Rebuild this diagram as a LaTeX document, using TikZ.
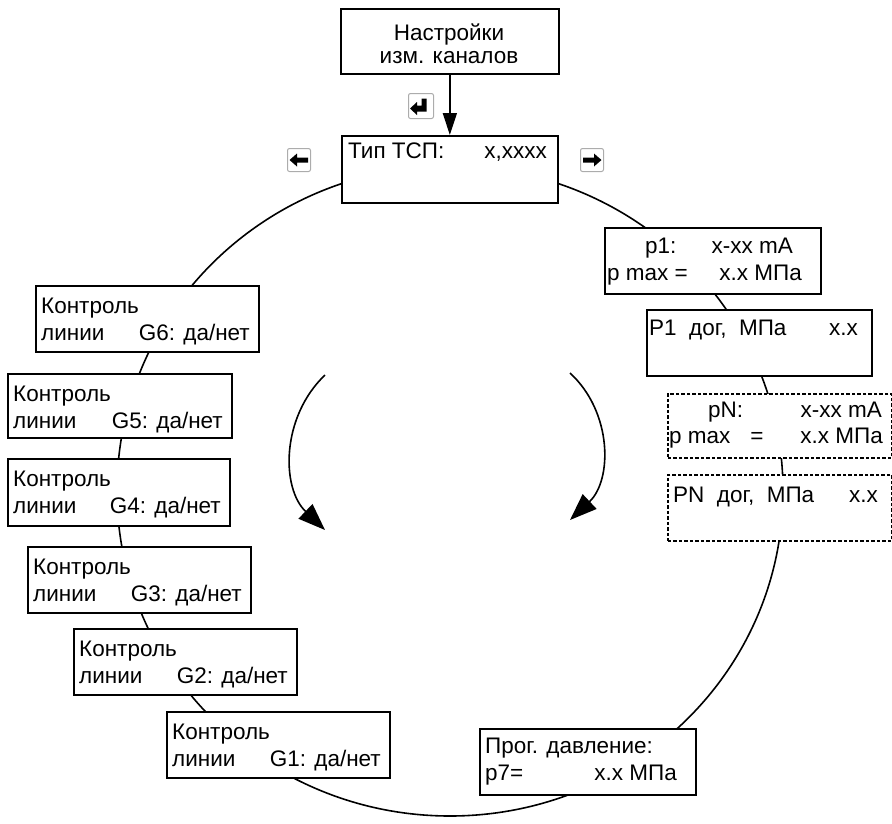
\documentclass[tikz,border=0pt]{standalone}
\usepackage{fontspec}
\setmainfont{Liberation Sans}
\usetikzlibrary{arrows.meta,calc}
\begin{document}
\begin{tikzpicture}[x=1pt,y=-1pt,
  box/.style={draw, line width=1.7pt, fill=white, anchor=north west, inner sep=0pt},
  dbox/.style={box, dash pattern=on 3.5pt off 2pt},
  txt/.style={inner sep=0pt, font=\fontsize{22.5}{27}\selectfont},
  icon/.style={draw=gray!65, line width=1pt, rounded corners=2pt, fill=white, anchor=north west, inner sep=0pt, minimum width=23pt, minimum height=23pt},
  glyph/.style={fill=black, draw=none},
  conn/.style={line width=1.6pt},
  bigtip/.style={-{Triangle[length=27pt,width=20pt]}}
  ]
\useasboundingbox (0,0) rectangle (892,823);

% cycle
\draw[conn] (450,491) ellipse [x radius=333, y radius=325];

% top
\node[box, minimum width=218pt, minimum height=65pt] (nastr) at (340,8) {};
\node[txt, anchor=base] (nastr1) at (449,40) {Настройки};
\node[txt, anchor=base] (nastr2) at (449,63) {изм. каналов};

\node[box, minimum width=216pt, minimum height=67pt] (tip) at (341,135) {};
\node[txt, anchor=base west] (tip1) at (348,158) {Тип ТСП:};
\node[txt, anchor=base east] (tip2) at (547,158) {x,xxxx};

\draw[conn, -{Triangle[length=22pt,width=14pt]}] (nastr.south) -- (tip.north);

% icons
\node[icon, minimum width=25pt, minimum height=25pt] (ient) at (408,93) {};
\fill[glyph] (426.5,98.5) -- (426.5,111.5) -- (417,111.5) -- (417,115) -- (410,108.5) -- (417,102) -- (417,105.5) -- (421.5,105.5) -- (421.5,98.5) -- cycle;
\node[icon] (ileft) at (287,148) {};
\fill[glyph] (ileft.center) ++(-9.5,0) -- ++(7.5,-6.5) -- ++(0,4) -- ++(11,0) -- ++(0,5) -- ++(-11,0) -- ++(0,4) -- cycle;
\node[icon] (iright) at (580,148) {};
\fill[glyph] (iright.center) ++(9.5,0) -- ++(-7.5,-6.5) -- ++(0,4) -- ++(-11,0) -- ++(0,5) -- ++(11,0) -- ++(0,4) -- cycle;

% right column
\node[box, minimum width=216pt, minimum height=66pt] (p1) at (604,227) {};
\node[txt, anchor=base west] (p1a) at (645,253) {p1:};
\node[txt, anchor=base east] (p1b) at (793,253) {x-xx mA};
\node[txt, anchor=base west] (p1c) at (607,280) {p max =};
\node[txt, anchor=base east] (p1d) at (802,280) {x.x МПа};

\node[box, minimum width=225pt, minimum height=66pt] (P1) at (646,309) {};
\node[txt, anchor=base west] (P1a) at (649,335) {P1\ \ дог,\ \ МПа};
\node[txt, anchor=base east] (P1b) at (858,335) {x.x};

\node[dbox, minimum width=224pt, minimum height=64pt] (pN) at (667,393) {};
\node[txt, anchor=base west] (pNa) at (708,417) {pN:};
\node[txt, anchor=base east] (pNb) at (882,417) {x-xx mA};
\node[txt, anchor=base west] (pNc) at (669,443) {p max};
\node[txt, anchor=base] (pNd) at (757,443) {=};
\node[txt, anchor=base east] (pNe) at (883,443) {x.x МПа};

\node[dbox, minimum width=224pt, minimum height=66pt] (PN) at (667,474) {};
\node[txt, anchor=base west] (PNa) at (673,502) {PN\ \ дог,\ \ МПа};
\node[txt, anchor=base east] (PNb) at (878,502) {x.x};

\node[box, minimum width=216pt, minimum height=66pt] (p7) at (479,728) {};
\node[txt, anchor=base west] (p7a) at (485,753) {Прог. давление:};
\node[txt, anchor=base west] (p7b) at (485,780) {p7=};
\node[txt, anchor=base east] (p7c) at (677,780) {x.x МПа};

% left column
\foreach \n/\x/\y/\w/\h in {6/35/285/223/66, 5/7/373/224/64, 4/7/458/222/67, 3/27/546/223/66, 2/73/628/223/66, 1/166/711/223/66}{
  \node[box, minimum width=\w pt, minimum height=\h pt] (g\n) at (\x,\y) {};
  \node[txt, anchor=base west] (g\n a) at ($(\x,\y)+(6,28)$) {Контроль};
  \node[txt, anchor=base west] (g\n b) at ($(\x,\y)+(6,55)$) {линии};
  \node[txt, anchor=base east] (g\n c) at ($(\x,\y)+(\w-8,55)$) {G\n: да/нет};
}

% inner direction arrows
\coordinate (la1) at (325,375);
\coordinate (la2) at (325,530);
\draw[conn, bigtip] (la1) .. controls (281,417) and (281,488) .. (la2);
\coordinate (ra1) at (570,373);
\coordinate (ra2) at (570,520);
\draw[conn, bigtip] (ra1) .. controls (612.5,412) and (612.5,480) .. (ra2);
\end{tikzpicture}
\end{document}
